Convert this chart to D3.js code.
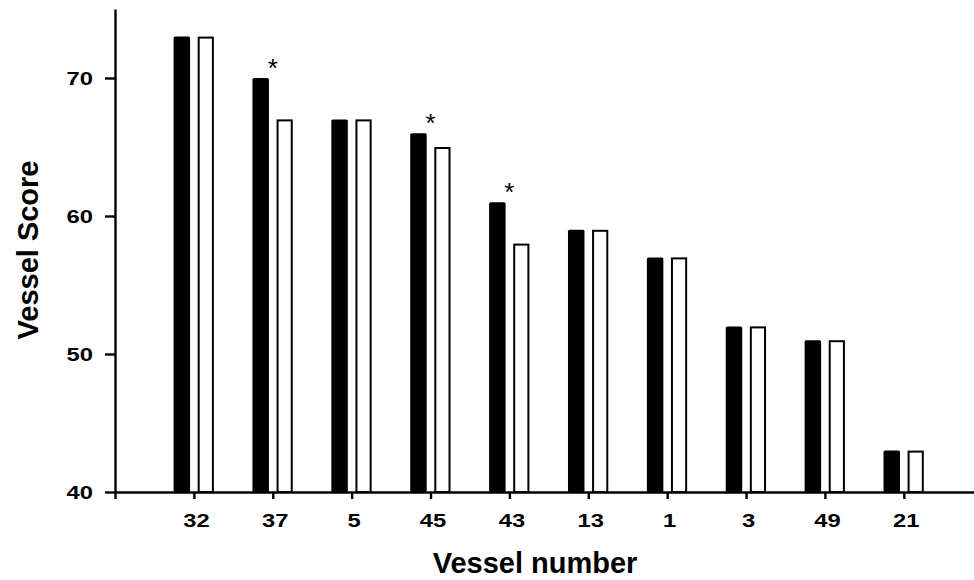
<!DOCTYPE html>
<html>
<head>
<meta charset="utf-8">
<script src="https://cdn.jsdelivr.net/npm/d3@7"></script>
<style>
    body { margin: 0; background: #fff; }
    svg { display: block; }
    .axis path, .axis line { stroke: #000; stroke-width: 2.4px; }
    .axis text { font-family: "Liberation Sans", Arial, sans-serif; font-weight: bold; font-size: 19px; fill: #000; }
    .title { font-family: "Liberation Sans", Arial, sans-serif; font-weight: bold; font-size: 29px; fill: #000; }
</style>
</head>
<body>
<svg id="chart" width="974" height="580"></svg>
<script>
// vessel numbers along the x axis
const categories = ['32', '37', '5', '45', '43', '13', '1', '3', '49', '21'];
// filled bars
const blackScores = [73, 70, 67, 66, 61, 59, 57, 52, 51, 43];
// open bars
const whiteScores = [73, 67, 67, 65, 58, 59, 57, 52, 51, 43];
// vessels marked with an asterisk
const starred = ['37', '45', '43'];
const yTicks = [40, 50, 60, 70];

const svg = d3.select('#chart');

// x is an index scale: 0 is the origin, categories sit at 1..10
let x = d3.scaleLinear()
    .domain([0, 10.89])
    .range([115, 974]);

let y = d3.scaleLinear()
    .domain([40, 75])
    .range([492, 9]);

let xAxis = svg.append('g')
    .attr('class', 'axis')
    .attr('transform', 'translate(0,' + y(40) + ')')
    .call(d3.axisBottom(x)
        .tickValues(d3.range(0, categories.length + 1))
        .tickFormat(function(i) { return i === 0 ? '' : categories[i - 1]; })
        .tickSize(7)
        .tickSizeOuter(0));
xAxis.selectAll('text')
    .attr('y', 0)
    .attr('dy', null)
    .attr('transform', 'translate(2,35) scale(1.25,1)');

let yAxis = svg.append('g')
    .attr('class', 'axis')
    .attr('transform', 'translate(' + x(0) + ',0)')
    .call(d3.axisLeft(y)
        .tickValues(yTicks)
        .tickSize(10)
        .tickSizeOuter(0));
yAxis.selectAll('text')
    .attr('x', 0)
    .attr('dy', '0.36em')
    .attr('transform', 'translate(-22,0) scale(1.25,1)');

// pairs of bars, black left of the tick, white right of it
const groups = svg.append('g')
    .selectAll('g')
    .data(categories)
    .join('g')
    .attr('transform', function(d, i) { return 'translate(' + x(i + 1) + ',0)'; });

groups.append('rect')
    .attr('x', -20.3)
    .attr('width', 16.5)
    .attr('y', function(d, i) { return y(blackScores[i]); })
    .attr('height', function(d, i) { return y(40) - y(blackScores[i]); })
    .attr('rx', 1.5)
    .attr('fill', '#000');

groups.append('rect')
    .attr('x', 4.8)
    .attr('width', 14.2)
    .attr('y', function(d, i) { return y(whiteScores[i]) + 1; })
    .attr('height', function(d, i) { return y(40) - y(whiteScores[i]) - 1; })
    .attr('fill', '#fff')
    .attr('stroke', '#000')
    .attr('stroke-width', 2);

groups.filter(function(d) { return starred.indexOf(d) >= 0; })
    .append('text')
    .attr('x', 0)
    .attr('y', function(d) { return y(blackScores[categories.indexOf(d)]) - 1; })
    .attr('text-anchor', 'middle')
    .style('font-family', '"Liberation Sans", Arial, sans-serif')
    .style('font-size', '26px')
    .text('*');

svg.append('text')
    .attr('class', 'title')
    .attr('text-anchor', 'middle')
    .attr('x', 535)
    .attr('y', 573)
    .text('Vessel number');

svg.append('text')
    .attr('class', 'title')
    .attr('text-anchor', 'middle')
    .attr('transform', 'translate(38,250) rotate(-90)')
    .text('Vessel Score');
</script>
</body>
</html>
